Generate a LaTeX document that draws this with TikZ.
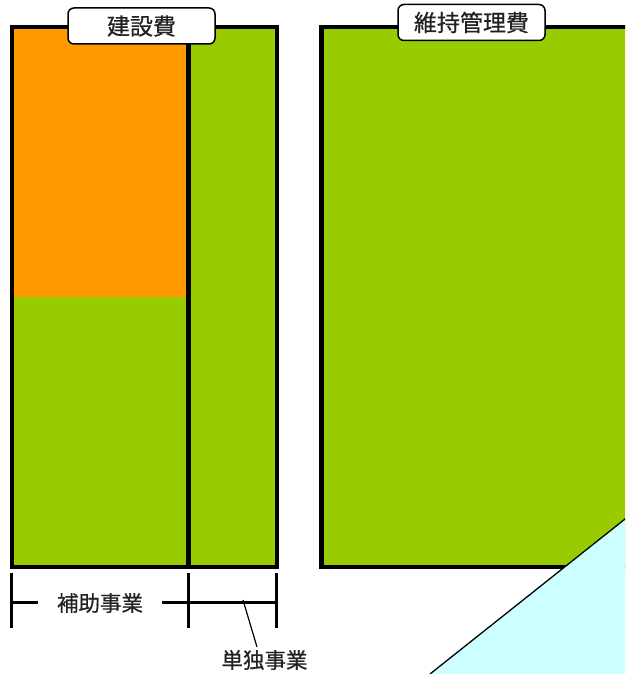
\documentclass[tikz,border=0pt]{standalone}
\usepackage{fontspec}
\newfontfamily\cjk[FakeBold=0.6]{Noto Sans CJK JP}
\definecolor{orangeC}{HTML}{FF9900}
\definecolor{greenC}{HTML}{99CC00}
\definecolor{cyanC}{HTML}{CCFFFF}
\definecolor{txtC}{HTML}{222222}
\tikzset{
  boxline/.style={line width=4.5pt},
  dimline/.style={line width=3pt},
  header/.style={draw=black, fill=white, line width=1.5pt, rounded corners=6pt,
    minimum width=147pt, minimum height=36pt, inner sep=0pt,
    font=\cjk\fontsize{23}{26}\selectfont, text=txtC},
  dimlabel/.style={inner sep=0pt, font=\cjk\fontsize{21.5}{24}\selectfont, text=txtC},
}
\begin{document}
\begin{tikzpicture}[x=1pt,y=-1pt]
\useasboundingbox (0,0) rectangle (625,674);
\clip (0,0) rectangle (625,674);
% left box
\fill[greenC] (12,27) rectangle (277,567);
\fill[orangeC] (12,27) rectangle (188.5,297);
\draw[boxline] (188.5,27) -- (188.5,567);
\draw[boxline] (12,27) rectangle (277,567);
% right box
\fill[greenC] (321.5,27) rectangle (700,567);
\draw[boxline] (321.5,27) rectangle (700,567);
% triangle
\fill[cyanC] (430,674) -- (700,459.4) -- (700,700) -- (430,700) -- cycle;
\draw[line width=1.3pt] (430,674) -- (700,459.4);
% headers
\node[header] (kensetsu) at (141.5,26) {建設費};
\node[header] (iji) at (471.5,22.5) {維持管理費};
% dimension lines
\coordinate (t1a) at (11.5,573); \coordinate (t1b) at (11.5,628);
\coordinate (t2a) at (188.5,573); \coordinate (t2b) at (188.5,628);
\coordinate (t3a) at (276.5,573); \coordinate (t3b) at (276.5,628);
\draw[dimline] (t1a) -- (t1b);
\draw[dimline] (t2a) -- (t2b);
\draw[dimline] (t3a) -- (t3b);
\node[dimlabel] (hojo) at (100,603) {補助事業};
\coordinate (d1) at (11.5,602);
\coordinate (d2) at (38,602);
\coordinate (d3) at (162,602);
\coordinate (d4) at (276.5,602);
\draw[dimline] (d1) -- (d2);
\draw[dimline] (d3) -- (d4);
\node[dimlabel] (tandoku) at (264.5,660) {単独事業};
\coordinate (lA) at (243,600);
\coordinate (lB) at (257,647);
\draw[line width=1.2pt] (lA) -- (lB);
\end{tikzpicture}
\end{document}
